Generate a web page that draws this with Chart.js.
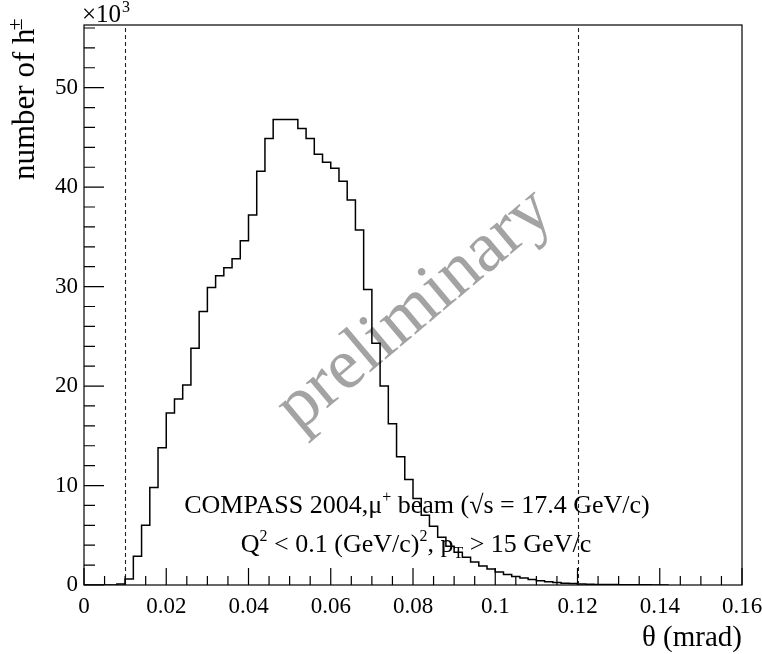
<!DOCTYPE html>
<html>
<head>
<meta charset="utf-8">
<script src="https://cdn.jsdelivr.net/npm/chart.js@4"></script>
<style>
  html, body { margin: 0; padding: 0; background: #fff; }
  canvas { display: block; }
</style>
</head>
<body>
<canvas id="myChart" width="762" height="654"></canvas>
<script>
// histogram of theta, bins of 0.002 mrad starting at 0, counts in units of 10^3
const binLow = 0;
const binWidth = 0.002;
const hadronCounts = [
    0, 0, 0, 0, 0.1, 0.6, 2.9, 6.0, 9.8, 13.8,
    17.3, 18.7, 20.1, 23.8, 27.5, 29.9, 31.1, 31.9, 32.8, 34.6,
    37.2, 41.6, 44.9, 46.8, 46.8, 46.8, 45.9, 44.9, 43.3, 42.5,
    41.9, 40.6, 38.7, 35.7, 29.7, 24.3, 20.0, 16.2, 12.9, 10.6,
    8.7, 7.0, 5.9, 4.8, 3.9, 3.3, 2.8, 2.3, 1.9, 1.6,
    1.3, 1.05, 0.85, 0.7, 0.55, 0.42, 0.33, 0.25, 0.18, 0.14,
    0.1, 0.08, 0.06, 0.05, 0.04, 0.03, 0.03, 0.02, 0.02, 0.01,
    0.01
];
const xTicks = [0, 0.02, 0.04, 0.06, 0.08, 0.1, 0.12, 0.14, 0.16];
const xTickLabels = ['0', '0.02', '0.04', '0.06', '0.08', '0.1', '0.12', '0.14', '0.16'];
const yTicks = [0, 10, 20, 30, 40, 50];
const yTickLabels = ['0', '10', '20', '30', '40', '50'];
const cutLines = [0.01, 0.12];

const serif = "'Liberation Serif', 'DejaVu Serif', serif";

// step points: left edge of every bin, then closing edge
const histPoints = hadronCounts.map((c, i) => ({ x: binLow + i * binWidth, y: c }));
histPoints.push({ x: binLow + hadronCounts.length * binWidth, y: 0 });

// draws a run of text pieces, some raised or lowered
function drawPieces(ctx, pieces, cx, baseline, size) {
    const widths = pieces.map(p => {
        ctx.font = (p.sup || p.sub ? Math.round(size * 0.62) : size) + 'px ' + serif;
        return ctx.measureText(p.t).width;
    });
    const total = widths.reduce((a, b) => a + b, 0);
    let x = cx - total / 2;
    ctx.textAlign = 'left';
    ctx.textBaseline = 'alphabetic';
    pieces.forEach((p, i) => {
        ctx.font = (p.sup || p.sub ? Math.round(size * 0.62) : size) + 'px ' + serif;
        let y = baseline;
        if (p.sup) y -= size * 0.42;
        if (p.sub) y += size * 0.22;
        ctx.fillText(p.t, x, y);
        x += widths[i];
    });
}

const rootStyle = {
    id: 'rootStyle',
    beforeDatasetsDraw(chart) {
        const ctx = chart.ctx;
        ctx.save();
        ctx.translate(415, 310);
        ctx.rotate(-40 * Math.PI / 180);
        ctx.font = '72px ' + serif;
        ctx.fillStyle = 'rgba(140,140,140,0.8)';
        ctx.textAlign = 'center';
        ctx.textBaseline = 'middle';
        ctx.fillText('preliminary', 0, 0);
        ctx.restore();
    },
    afterDatasetsDraw(chart) {
        const ctx = chart.ctx;
        const area = chart.chartArea;
        const xs = chart.scales.x;
        const ys = chart.scales.y;
        ctx.save();

        // dashed cut lines
        ctx.strokeStyle = '#222';
        ctx.lineWidth = 1.1;
        ctx.setLineDash([4, 3]);
        cutLines.forEach(v => {
            const px = Math.round(xs.getPixelForValue(v)) + 0.5;
            ctx.beginPath();
            ctx.moveTo(px, area.bottom);
            ctx.lineTo(px, area.top);
            ctx.stroke();
        });
        ctx.setLineDash([]);

        // frame
        ctx.strokeStyle = '#000';
        ctx.lineWidth = 1.2;
        ctx.strokeRect(area.left, area.top, area.right - area.left, area.bottom - area.top);

        // inner ticks, ROOT style
        ctx.beginPath();
        for (let i = 0; i <= 32; i++) {
            const px = xs.getPixelForValue(i * 0.005);
            const len = i % 4 === 0 ? 17 : 9;
            ctx.moveTo(px, area.bottom);
            ctx.lineTo(px, area.bottom - len);
        }
        for (let j = 0; j <= 28; j++) {
            const py = ys.getPixelForValue(j * 2);
            const len = j % 5 === 0 ? 20 : 11;
            ctx.moveTo(area.left, py);
            ctx.lineTo(area.left + len, py);
        }
        ctx.stroke();

        ctx.fillStyle = '#000';
        // exponent
        ctx.font = '25px ' + serif;
        ctx.textAlign = 'left';
        ctx.textBaseline = 'alphabetic';
        ctx.fillText('\u00d710', area.left - 2, 22);
        const w10 = ctx.measureText('\u00d710').width;
        ctx.font = '16px ' + serif;
        ctx.fillText('3', area.left - 2 + w10 + 1, 12);

        // axis titles
        ctx.font = '29px ' + serif;
        ctx.textAlign = 'right';
        ctx.fillText('\u03b8 (mrad)', area.right, 646);

        ctx.save();
        ctx.translate(34, 180);
        ctx.rotate(-Math.PI / 2);
        ctx.textAlign = 'left';
        ctx.font = '31px ' + serif;
        ctx.fillText('number of h', 0, 0);
        const wh = ctx.measureText('number of h').width;
        ctx.font = '22px ' + serif;
        ctx.fillText('\u00b1', wh - 2, -12);
        ctx.restore();

        // annotation
        drawPieces(ctx, [
            { t: 'COMPASS 2004,\u03bc' }, { t: '+', sup: true },
            { t: ' beam (\u221as = 17.4 GeV/c)' }
        ], 417, 513, 26);
        drawPieces(ctx, [
            { t: 'Q' }, { t: '2', sup: true }, { t: ' < 0.1 (GeV/c)' }, { t: '2', sup: true },
            { t: ', p' }, { t: 'T', sub: true }, { t: ' > 15 GeV/c' }
        ], 416, 552, 26);

        ctx.restore();
    }
};

const ctx = document.getElementById('myChart').getContext('2d');
const myChart = new Chart(ctx, {
    type: 'line',
    data: {
        datasets: [{
            label: 'h\u00b1',
            data: histPoints,
            borderColor: '#000',
            borderWidth: 1.5,
            pointRadius: 0,
            fill: false,
            stepped: 'before',
            tension: 0
        }]
    },
    options: {
        responsive: false,
        animation: false,
        layout: { padding: { top: 25, right: 20, left: 0, bottom: 0 } },
        plugins: {
            legend: { display: false },
            tooltip: { enabled: false }
        },
        scales: {
            x: {
                type: 'linear',
                min: 0,
                max: 0.16,
                afterBuildTicks: s => { s.ticks = xTicks.map(v => ({ value: v })); },
                afterFit: s => { s.height = 69; s.paddingLeft = 0; s.paddingRight = 0; },
                grid: { display: false, drawTicks: false },
                border: { display: false },
                ticks: {
                    autoSkip: false,
                    maxRotation: 0,
                    padding: 8,
                    color: '#000',
                    font: { family: serif, size: 23 },
                    callback: (v, i) => xTickLabels[i]
                }
            },
            y: {
                type: 'linear',
                min: 0,
                max: 56.3,
                afterBuildTicks: s => { s.ticks = yTicks.map(v => ({ value: v })); },
                afterFit: s => { s.width = 84; s.paddingTop = 0; s.paddingBottom = 0; },
                grid: { display: false, drawTicks: false },
                border: { display: false },
                ticks: {
                    padding: 6,
                    color: '#000',
                    font: { family: serif, size: 23 },
                    callback: (v, i) => yTickLabels[i]
                }
            }
        }
    },
    plugins: [rootStyle]
});
</script>
</body>
</html>
